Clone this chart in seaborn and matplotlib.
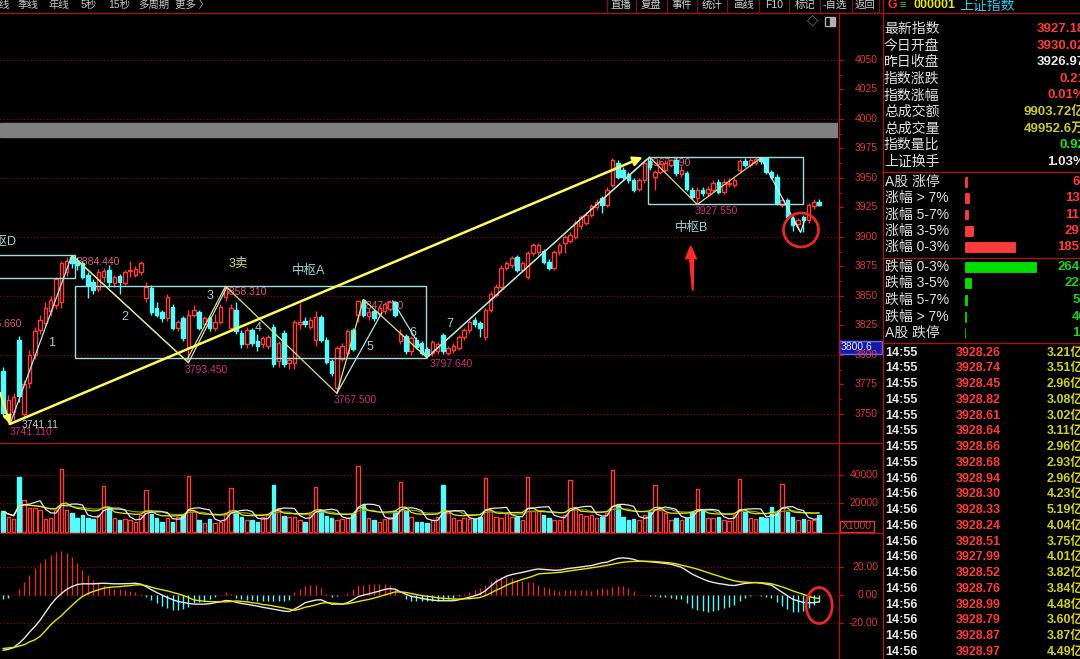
import numpy as np
import pandas as pd
import seaborn as sns
import matplotlib.pyplot as plt
import matplotlib.transforms as mtransforms
from matplotlib.patches import Rectangle, Ellipse, Polygon

# 30-minute candles of 上证指数
opens = [3786, 3745, 3752, 3813, 3750, 3776, 3800, 3821, 3827, 3837,
         3842, 3845, 3870, 3883, 3880, 3878, 3868, 3862, 3856, 3866,
         3872, 3861, 3867, 3861, 3871, 3868, 3870, 3848, 3857, 3840,
         3836, 3831, 3841, 3823, 3831, 3807, 3834, 3836, 3826, 3831,
         3823, 3828, 3849, 3823, 3838, 3819, 3809, 3821, 3812, 3809,
         3808, 3824, 3795, 3819, 3793, 3793, 3826, 3829, 3824, 3813,
         3832, 3813, 3795, 3772, 3797, 3802, 3821, 3834, 3847, 3833,
         3837, 3835, 3837, 3839, 3845, 3812, 3816, 3803, 3813, 3810,
         3805, 3802, 3803, 3817, 3802, 3804, 3806, 3815, 3821, 3830,
         3827, 3815, 3838, 3851, 3858, 3874, 3876, 3883, 3872, 3866,
         3886, 3887, 3888, 3879, 3874, 3887, 3895, 3897, 3900, 3909,
         3912, 3919, 3925, 3933, 3927, 3944, 3963, 3957, 3953, 3948,
         3941, 3948, 3964, 3951, 3955, 3957, 3961, 3965, 3953, 3954,
         3940, 3933, 3940, 3937, 3940, 3947, 3938, 3945, 3944, 3957,
         3964, 3961, 3963, 3967, 3967, 3955, 3951, 3927, 3931, 3916,
         3911, 3917, 3914, 3926, 3930]
highs = [3790, 3766, 3768, 3816, 3779, 3804, 3824, 3834, 3845, 3850,
         3866, 3880, 3883, 3884.44, 3883, 3880, 3870, 3864, 3873, 3874,
         3876, 3868, 3869, 3872, 3880, 3875, 3880, 3862, 3859, 3845,
         3838, 3852, 3843, 3830, 3833, 3838, 3842, 3838, 3833, 3833,
         3835, 3843, 3858.31, 3843, 3845, 3821, 3824, 3823, 3818, 3816,
         3817, 3826, 3812, 3821, 3798, 3830, 3844, 3832, 3832, 3837,
         3834, 3815, 3797, 3808, 3810, 3822, 3823, 3847, 3847.09, 3840,
         3839, 3842, 3845, 3847, 3846, 3822, 3818, 3816, 3815, 3812,
         3807, 3813, 3811, 3819, 3808, 3810, 3817, 3823, 3830, 3832,
         3829, 3840, 3854, 3860, 3876, 3880, 3884, 3885, 3880, 3888,
         3895, 3895, 3890, 3881, 3889, 3895, 3902, 3904, 3914, 3919,
         3921, 3928, 3932, 3935, 3942, 3967, 3965, 3959, 3955, 3950,
         3950, 3965, 3967.59, 3957, 3964, 3965, 3966, 3967, 3960, 3956,
         3942, 3942, 3942, 3943, 3948, 3949, 3949, 3950, 3950, 3966,
         3967, 3967, 3967, 3967.5, 3967.5, 3957, 3953, 3933, 3933, 3918,
         3916, 3919, 3929, 3932, 3932]
lows = [3748, 3741.11, 3745, 3760, 3746, 3772, 3797, 3818, 3824, 3833,
        3839, 3840, 3867, 3874, 3872, 3864, 3848, 3852, 3853, 3862,
        3858, 3858, 3852, 3859, 3866, 3866, 3868, 3845, 3834, 3832,
        3828, 3829, 3821, 3820, 3812, 3793.45, 3832, 3821, 3824, 3820,
        3820, 3826, 3846, 3820, 3818, 3806, 3806, 3808, 3803, 3806,
        3805, 3790, 3790, 3790, 3788, 3788, 3822, 3824, 3822, 3808,
        3811, 3792, 3782, 3767.5, 3795, 3800, 3803, 3828, 3832, 3830,
        3829, 3833, 3835, 3837, 3832, 3809, 3801, 3800, 3805, 3800,
        3797.64, 3799, 3801, 3801, 3800, 3802, 3804, 3813, 3819, 3824,
        3815, 3813, 3836, 3849, 3856, 3872, 3874, 3870, 3870, 3864,
        3884, 3885, 3877, 3872, 3872, 3885, 3886, 3895, 3898, 3907,
        3910, 3917, 3923, 3920, 3925, 3942, 3949, 3949, 3946, 3938,
        3939, 3946, 3957, 3940, 3953, 3955, 3959, 3952, 3951, 3939,
        3932, 3927.55, 3935, 3935, 3938, 3936, 3936, 3942, 3942, 3955,
        3959, 3959, 3961, 3962, 3953, 3949, 3927, 3925, 3915, 3905,
        3909, 3904, 3912, 3924, 3926]
closes = [3751, 3762, 3764, 3765, 3775, 3800, 3820, 3830, 3840, 3847,
          3864, 3878, 3880, 3878, 3876, 3866, 3859, 3855, 3870, 3871,
          3862, 3866, 3862, 3870, 3872, 3873, 3878, 3858, 3836, 3834,
          3831, 3849, 3823, 3828, 3814, 3834, 3838, 3823, 3831, 3823,
          3828, 3841, 3857, 3840, 3820, 3809, 3821, 3810, 3808, 3814,
          3815, 3792, 3810, 3792, 3796, 3828, 3828, 3826, 3830, 3832,
          3813, 3794, 3785, 3806, 3808, 3820, 3805, 3846, 3834, 3836,
          3831, 3840, 3843, 3845, 3834, 3818, 3803, 3814, 3807, 3802,
          3800, 3811, 3809, 3803, 3806, 3808, 3815, 3821, 3828, 3826,
          3823, 3838, 3852, 3858, 3874, 3878, 3882, 3872, 3878, 3886,
          3893, 3893, 3879, 3874, 3887, 3893, 3900, 3902, 3912, 3917,
          3919, 3926, 3930, 3927, 3940, 3965, 3951, 3951, 3948, 3940,
          3948, 3963, 3959, 3955, 3962, 3963, 3965, 3954, 3957, 3941,
          3934, 3940, 3937, 3941, 3946, 3938, 3947, 3946, 3948, 3964,
          3961, 3965, 3966, 3964, 3955, 3951, 3929, 3931, 3917, 3910,
          3914, 3914, 3927, 3930, 3927.18]
volumes = [14300, 10700, 9000, 38800, 22600, 16700, 16700, 15000, 8800, 9500,
           15500, 44500, 15500, 13000, 9500, 11900, 9500, 9000, 11900, 32600,
           17800, 9500, 8300, 8800, 7900, 7100, 11900, 29300, 12600, 9500,
           7100, 9500, 7100, 10700, 12000, 39300, 14300, 8300, 6400, 8800,
           6400, 7100, 13000, 30900, 13600, 10700, 8300, 7900, 7100, 10700,
           11900, 33300, 16700, 11200, 10200, 10700, 8300, 7100, 12000, 32100,
           15000, 11000, 9500, 8300, 8800, 9500, 12600, 46900, 19000, 9500,
           8300, 7100, 8800, 10700, 14300, 35000, 14300, 10700, 7100, 7100,
           6400, 8300, 10200, 33300, 13000, 9500, 8300, 9500, 8800, 8800,
           10700, 38100, 15700, 10200, 9500, 13000, 10700, 10700, 8300, 38800,
           14300, 14300, 11750, 9400, 8200, 8200, 11750, 36900, 17600, 12500,
           11000, 11750, 9400, 10600, 13400, 44000, 18800, 10100, 8200, 8700,
           8200, 11750, 14100, 33400, 15300, 12900, 8200, 9400, 8200, 9400,
           14100, 30600, 15300, 9400, 9400, 10600, 8200, 7800, 11750, 37600,
           14100, 9400, 8700, 10600, 9400, 17600, 12900, 33600, 14100, 10600,
           8200, 8700, 8200, 8200, 11750]
dif = [-39.5, -38.8, -37.5, -34.5, -31, -26.5, -22.5, -18, -12.5, -7,
       -2.5, 1, 4, 6, 7.5, 8, 8, 8, 8.2, 8.4,
       8.2, 8, 8, 8.1, 8.2, 8.4, 7.8, 6, 3.8, 1.8,
       0, -1.8, -3.3, -4.6, -5.3, -6, -6.5, -6.5, -6.5, -6.2,
       -5.5, -4.8, -3.9, -4.2, -5.2, -6, -6.6, -7.3, -7.9, -8.8,
       -9.4, -10.1, -10.8, -11.5, -11.8, -10, -8, -5.5, -4.5, -3.6,
       -3.4, -5, -6.5, -6.5, -6.5, -5.5, -3.5, -1.2, -0.1, 0.8,
       1.8, 2.8, 4, 4.6, 4.2, 2.2, 0.6, -0.9, -1.6, -2.4,
       -3.1, -3.6, -4, -4.1, -4.1, -4.1, -3.4, -2.5, -1.6, -0.5,
       0.7, 3, 6.3, 9.4, 11.5, 13.5, 14.6, 15.4, 16.2, 17,
       18, 18.6, 18.3, 18, 17.7, 17.8, 18.5, 19.1, 19.5, 20,
       20.6, 21, 22, 23, 23.5, 25, 26.2, 26.5, 26.2, 25.5,
       24.2, 24, 23.8, 23.4, 23, 22.5, 22, 21, 19.8, 17.5,
       15, 13.2, 11.5, 10, 9, 8.2, 7.7, 7, 6.8, 7.5,
       8.3, 8.6, 8.9, 8.5, 7.8, 7, 4.5, 2, -0.5, -3,
       -4.2, -5.3, -5.5, -5.5, -4.8]
dea = [-38.2, -37.8, -37.5, -36.5, -35.5, -33.5, -32, -29.5, -25.5, -21.3,
       -17.8, -14.8, -11, -7.5, -4, -1, 1, 2.5, 3.7, 4.9,
       5.5, 5.8, 6, 6.4, 6.7, 7.2, 7.3, 6.75, 5.55, 4.55,
       3.75, 2.95, 1.95, 0.9, -0.3, -1.75, -3.5, -4, -4.5, -4.7,
       -4.75, -4.8, -4.9, -4.7, -4.2, -4.5, -4.85, -5.55, -5.9, -6.8,
       -7.15, -7.85, -8.55, -9.25, -10.05, -11, -10, -8.75, -8, -7.1,
       -5.9, -5.5, -5.75, -6, -6.5, -6.25, -5.5, -4.7, -3.85, -3.2,
       -2.2, -1.2, 0, 1.1, 2.2, 2.2, 1.85, 1.1, 0.4, -0.4,
       -0.85, -1.35, -2, -2.35, -2.6, -2.85, -2.9, -2.75, -2.6, -2.25,
       -1.8, -0.5, 1.3, 3.4, 5, 7, 8.6, 9.9, 11.2, 12.25,
       13.5, 15, 15.4, 15.6, 15.9, 16.2, 16.7, 17.3, 17.8, 18.3,
       18.8, 19.4, 20, 20.6, 21.2, 22, 22.8, 23.4, 23.8, 24,
       24.1, 24.1, 24, 23.9, 23.6, 23.3, 22.9, 22.3, 21.3, 20.5,
       19.5, 18.5, 17.3, 16, 14.8, 13.6, 12.4, 11.2, 10.2, 9.5,
       9.2, 9, 8.9, 8.8, 8.5, 8, 7, 5.8, 4.5, 3,
       1.7, 0.5, -0.8, -2, -2.4]

# hand-drawn strokes (bar index, price)
yellow_pen_i = [13.4, 34.6, 42, 63, 68, 80]
yellow_pen_p = [3883, 3795, 3858.31, 3767.5, 3847.09, 3797.64]
cyan_pen_i = [1.3, 13, 35, 42.3]
cyan_pen_p = [3741.11, 3884.44, 3793.45, 3858]
up_leg_i = [80, 121.5]
up_leg_p = [3797.64, 3966]
box_b_pen_i = [122, 131, 143]
box_b_pen_p = [3967.59, 3927.55, 3967]

# side panel data
info_labels = ['最新指数', '今日开盘', '昨日收盘', '指数涨跌', '指数涨幅',
               '总成交额', '总成交量', '指数量比', '上证换手']
info_values = ['3927.18', '3930.02', '3926.97', '0.21', '0.01%',
               '9903.72亿', '49952.6万', '0.92', '1.03%']
up_labels = ['A股 涨停', '涨幅 > 7%', '涨幅 5-7%', '涨幅 3-5%', '涨幅 0-3%']
up_counts = [64, 137, 117, 297, 1855]
down_labels = ['跌幅 0-3%', '跌幅 3-5%', '跌幅 5-7%', '跌幅 > 7%', 'A股 跌停']
down_counts = [2642, 223, 59, 40, 10]
tick_times = ['14:55'] * 8 + ['14:56'] * 12
tick_prices = ['3928.26', '3928.74', '3928.45', '3928.82', '3928.61', '3928.64', '3928.66',
               '3928.68', '3928.94', '3928.30', '3928.33', '3928.24', '3928.51', '3927.99',
               '3928.52', '3928.76', '3928.99', '3928.79', '3928.87', '3928.97']
tick_amounts = ['3.21亿', '3.51亿', '2.96亿', '3.08亿', '3.02亿', '3.11亿', '2.96亿',
                '2.93亿', '2.96亿', '4.23亿', '5.19亿', '4.04亿', '3.75亿', '4.01亿',
                '3.82亿', '3.84亿', '4.48亿', '3.60亿', '3.87亿', '4.49亿']

sns.set_theme(style="dark")
plt.rcParams['font.family'] = ['Liberation Sans', 'Noto Sans CJK SC', 'DejaVu Sans']
plt.rcParams['axes.unicode_minus'] = False

W, H = 1080, 659
fig = plt.figure(figsize=(W / 100, H / 100), dpi=100, facecolor='black')

RED = '#ff3c3c'
CYAN = '#54fcfc'
GRID = '#8c1010'
AXRED = '#a81414'
LBL = '#d83c3c'
HI = '#d8607a'
LO = '#c8347a'
ZC = '#9fd6d6'


def px_axes(x0, y0, x1, y1):
    ax = fig.add_axes([x0 / W, 1 - y1 / H, (x1 - x0) / W, (y1 - y0) / H])
    ax.set_axis_off()
    return ax


def ix(px):
    return (px - 3) / 5.3


def pr(py):
    return 4050 - (py - 60) / 1.18


o = np.array(opens)
c = np.array(closes)
h = np.array(highs)
l = np.array(lows)
n = len(c)
xs = np.arange(n)
up = c >= o
cols = np.where(up, RED, CYAN)
XL = (-0.566, 157.55)

# ---------------- price panel ----------------
ax_p = px_axes(0, 13, 838, 443)
ax_p.set_xlim(*XL)
ax_p.set_ylim(3725.4, 4089.8)
for lvl in range(3750, 4051, 50):
    ax_p.axhline(lvl, color=GRID, lw=0.8, ls=(0, (1, 2)), zorder=0)
ax_p.axhspan(3984.8, 3996.6, color='#808080', zorder=1)

lbl_kw = dict(fontsize=7.5, va='center', zorder=1.5, clip_on=True)
ax_p.text(ix(10), pr(432), '3741.110', color=LO, **lbl_kw)
ax_p.text(ix(22), pr(425), '3741.11', color='#c8c8c8', **lbl_kw)
ax_p.text(ix(77), pr(262), '3884.440', color=HI, **lbl_kw)
ax_p.text(ix(-21), pr(324), '3826.660', color=HI, **lbl_kw)
ax_p.text(ix(224), pr(292), '3858.310', color=HI, **lbl_kw)
ax_p.text(ix(185), pr(370), '3793.450', color=LO, **lbl_kw)
ax_p.text(ix(334), pr(400), '3767.500', color=LO, **lbl_kw)
ax_p.text(ix(361), pr(306), '3847.090', color=HI, **lbl_kw)
ax_p.text(ix(430), pr(364), '3797.640', color=LO, **lbl_kw)
ax_p.text(ix(648), pr(163), '3967.590', color=HI, **lbl_kw)
ax_p.text(ix(695), pr(211), '3927.550', color=LO, **lbl_kw)

# candles
ax_p.vlines(xs, l, h, colors=cols, lw=1, zorder=2)
body = np.maximum(np.abs(c - o), 0.5)
bot = np.minimum(o, c)
ax_p.bar(xs[up], body[up], bottom=bot[up], width=0.66, facecolor='black',
         edgecolor=RED, lw=1, zorder=3)
ax_p.bar(xs[~up], body[~up], bottom=bot[~up], width=0.66, facecolor=CYAN,
         edgecolor=CYAN, lw=1, zorder=3)

# pivot zones
for (i0, i1, lo_, hi_) in [(-2, ix(75), 3865, 3884.44), (ix(75), ix(426), 3797.64, 3858.31),
                           (ix(648), ix(803), 3927.55, 3967.59)]:
    ax_p.add_patch(Rectangle((i0, lo_), i1 - i0, hi_ - lo_, fill=False, ec='#9fdcdc', lw=1, zorder=4))

# strokes
ax_p.plot(cyan_pen_i, cyan_pen_p, color='#b4e6e6', lw=0.9, zorder=5)
ax_p.plot(yellow_pen_i, yellow_pen_p, color='#e0e080', lw=0.9, zorder=5)
ax_p.plot([63, 71.5], [3767.5, 3836], color='#b4e6e6', lw=0.9, zorder=5)
ax_p.plot([73.5, 80], [3846, 3797.64], color='#b4e6e6', lw=0.9, zorder=5)
ax_p.plot(up_leg_i, up_leg_p, color='#e0e080', lw=0.9, zorder=5)
ax_p.plot([81, 122], [3802, 3967.59], color='#b4e6e6', lw=0.9, zorder=5)
ax_p.plot(box_b_pen_i, box_b_pen_p, color='#d8d88c', lw=0.9, zorder=5)
ax_p.plot([143, 150.5, 151.3], [3967, 3904, 3915], color='#d0e8e8', lw=0.9, zorder=5)
ax_p.plot([149.3, 150.5], [3913, 3904], color='#d0e8e8', lw=0.9, zorder=5)

# long trend arrow
ax_p.annotate('', xy=(120.7, 3967.59), xytext=(1.3, 3741.5),
              arrowprops=dict(arrowstyle='-|>', color='#ffff60', lw=1.8,
                              mutation_scale=14, shrinkA=0, shrinkB=0), zorder=6)
ax_p.annotate('', xy=(1.3, 3741.5), xytext=(-0.55, 3768),
              arrowprops=dict(arrowstyle='-|>', color='#ffff60', lw=1.5,
                              mutation_scale=12, shrinkA=0, shrinkB=0), zorder=6)

txt_kw = dict(fontsize=9, va='center', zorder=6, clip_on=True)
ax_p.text(ix(17), pr(242), '中枢D', ha='right', color=ZC, **txt_kw)
ax_p.text(ix(308.5), pr(271), '中枢A', ha='center', color=ZC, **txt_kw)
ax_p.text(ix(691.5), pr(228), '中枢B', ha='center', color=ZC, **txt_kw)
ax_p.text(ix(238), pr(264), '3卖', ha='center', color='#d8d890', **txt_kw)
for s, px, py in [('1', 52, 343), ('2', 125, 317), ('3', 210, 296), ('4', 258, 328),
                  ('5', 370, 347), ('6', 413, 333), ('7', 450, 324)]:
    ax_p.text(ix(px), pr(py), s, ha='center', color='#a8cccc', **txt_kw)

arrow_pts = [(ix(690.7), pr(246)), (ix(696.5), pr(259)), (ix(693.6), pr(258)),
             (ix(693.2), pr(290)), (ix(692.4), pr(290)), (ix(689.6), pr(258)),
             (ix(685.5), pr(259))]
ax_p.add_patch(Polygon(arrow_pts, closed=True, color='#ff2a2a', zorder=7))
ax_p.add_patch(Ellipse((ix(801), pr(230)), 35 / 5.3, 34 / 1.18, fill=False,
                       ec='#e82828', lw=2, zorder=7))

# ---------------- volume panel ----------------
ax_v = px_axes(0, 443, 838, 533)
ax_v.set_xlim(*XL)
ax_v.set_ylim(-1070, 63200)
for lvl in (20000, 40000):
    ax_v.axhline(lvl, color=GRID, lw=0.8, ls=(0, (1, 2)), zorder=0)
vol = np.array(volumes)
ax_v.bar(xs[up], vol[up], width=0.66, facecolor='black', edgecolor=RED, lw=1, zorder=2)
ax_v.bar(xs[~up], vol[~up], width=0.66, facecolor=CYAN, edgecolor=CYAN, lw=1, zorder=2)
vs = pd.Series(vol)
sns.lineplot(x=xs, y=vs.rolling(20, min_periods=1).mean().values, ax=ax_v,
             color='#7c9a2a', lw=0.9, legend=False, zorder=3)
sns.lineplot(x=xs, y=vs.rolling(10, min_periods=1).mean().values, ax=ax_v,
             color='#e6e600', lw=0.9, legend=False, zorder=3)
sns.lineplot(x=xs, y=vs.rolling(5, min_periods=1).mean().values, ax=ax_v,
             color='#e8e8e8', lw=0.9, legend=False, zorder=3)
ax_v.set_axis_off()

# ---------------- MACD panel ----------------
ax_m = px_axes(0, 533, 838, 659)
ax_m.set_xlim(*XL)
ax_m.set_ylim(-45.7, 44.3)
for lvl in (20, 0, -20):
    ax_m.axhline(lvl, color=GRID, lw=0.8, ls=(0, (1, 2)), zorder=0)
dif_a = np.array(dif)
dea_a = np.array(dea)
hist = 2 * (dif_a - dea_a)
ax_m.vlines(xs, 0, hist, colors=np.where(hist >= 0, '#d83030', CYAN), lw=1, zorder=2)
sns.lineplot(x=xs, y=dif_a, ax=ax_m, color='#e8e8e8', lw=1, legend=False, zorder=3)
sns.lineplot(x=xs, y=dea_a, ax=ax_m, color='#e6e600', lw=1, legend=False, zorder=3)
ax_m.add_patch(Ellipse((154, -7.5), 26 / 5.3, 36 / 1.4, fill=False, ec='#e82828',
                       lw=2, zorder=5, clip_on=False))
ax_m.set_axis_off()

# ---------------- side panel bars (seaborn) ----------------
ax_u = px_axes(965, 173.5, 1080, 255.5)
sns.barplot(x=up_counts, y=up_labels, color='#ff3c3c', saturation=1, width=0.6,
            orient='h', ax=ax_u, edgecolor='#ff3c3c', linewidth=0.6)
ax_u.set_xlim(0, 115 / 0.027)
ax_u.set_ylim(4.5, -0.5)
ax_u.set_axis_off()
ax_d = px_axes(965, 258.4, 1080, 341.6)
sns.barplot(x=down_counts, y=down_labels, color='#00e000', saturation=1, width=0.6,
            orient='h', ax=ax_d, edgecolor='#00e000', linewidth=0.6)
ax_d.set_xlim(0, 115 / 0.027)
ax_d.set_ylim(4.5, -0.5)
ax_d.set_axis_off()

# ---------------- overlay: frame, axes labels, side texts ----------------
ov = fig.add_axes([0, 0, 1, 1])
ov.set_axis_off()
ov.set_autoscale_on(False)
ov.set_xlim(0, W)
ov.set_ylim(H, 0)

ov.plot([0, W], [12.5, 12.5], color=AXRED, lw=1)
for y in (443, 533):
    ov.plot([0, 882], [y, y], color=AXRED, lw=1)
ov.plot([838.5, 838.5], [12.5, H], color=AXRED, lw=1)
ov.plot([882.5, 882.5], [0, H], color=AXRED, lw=1)
for y in (172, 257.5, 343):
    ov.plot([882.5, W], [y, y], color=AXRED, lw=1)

# toolbar
for s, x in [('线', 4), ('季线', 28), ('年线', 59), ('5秒', 89), ('15秒', 119),
             ('多周期', 154), ('更多 〉', 192)]:
    ov.text(x, 5, s, color='#c8c8c8', fontsize=7.5, ha='center', va='center')
for x in [607, 636, 667, 697, 727, 759, 789, 820, 852, 879]:
    ov.plot([x, x], [0, 12], color='#6a1a1a', lw=1)
for s, x in [('直播', 621), ('复盘', 651), ('事件', 682), ('统计', 712), ('画线', 743),
             ('F10', 774), ('标记', 805), ('-自选', 835), ('返回', 865)]:
    ov.text(x, 5, s, color='#d0d0d0', fontsize=7.5, ha='center', va='center')
ov.text(812, 21, '◇', color='#b0b0b0', fontsize=8, ha='center', va='center')
ov.add_patch(Rectangle((825, 16.5), 10, 9, fill=False, ec='#b0b0b0', lw=1))
ov.add_patch(Rectangle((830, 17.5), 4, 7, color='#b0b0b0'))

# price axis
tp = mtransforms.blended_transform_factory(ov.transData, ax_p.transData)
for lvl in range(3750, 4051, 25):
    ov.plot([838.5, 843], [lvl, lvl], color=AXRED, lw=1, transform=tp)
    ov.text(878, lvl, str(lvl), color=LBL, fontsize=7.5, ha='right', va='center', transform=tp)
for lvl in np.arange(3762.5, 4050, 25):
    ov.plot([838.5, 841], [lvl, lvl], color=AXRED, lw=0.8, transform=tp)
ov.add_patch(Rectangle((838.5, 341), 43.5, 13, fc='#1818a8', ec='#6a6aff', lw=1))
ov.text(841, 347.5, '3800.6', color='#e6e6ff', fontsize=7.5, va='center')

tv = mtransforms.blended_transform_factory(ov.transData, ax_v.transData)
for lvl in (20000, 40000):
    ov.plot([838.5, 843], [lvl, lvl], color=AXRED, lw=1, transform=tv)
    ov.text(878, lvl, str(lvl), color=LBL, fontsize=7.5, ha='right', va='center', transform=tv)
ov.add_patch(Rectangle((839.5, 520.5), 34, 11, fill=False, ec=LBL, lw=1))
ov.text(856.5, 526, 'X1000', color=LBL, fontsize=7.5, ha='center', va='center')

tm = mtransforms.blended_transform_factory(ov.transData, ax_m.transData)
for lvl, s in [(20, '20.00'), (0, '0.00'), (-20, '-20.00')]:
    ov.plot([838.5, 843], [lvl, lvl], color=AXRED, lw=1, transform=tm)
    ov.text(878, lvl, s, color=LBL, fontsize=7.5, ha='right', va='center', transform=tm)

# side panel header
ov.text(887, 5.5, 'G', color='#ff3030', fontsize=9, fontweight='bold', va='center')
ov.text(900, 5.5, '≡', color='#50c050', fontsize=8, va='center')
ov.text(913, 5.5, '000001', color='#e6e600', fontsize=9, fontweight='bold', va='center')
ov.text(959, 5.5, '上证指数', color='#30c8e8', fontsize=10, va='center')

info_colors = ['#ff3c3c', '#ff3c3c', '#e8e8e8', '#ff3c3c', '#ff3c3c',
               '#c8c832', '#c8c832', '#20e020', '#e8e8e8']
for k, (lab, val, col) in enumerate(zip(info_labels, info_values, info_colors)):
    y = 29 + 16.6 * k
    ov.text(884, y, lab, color='#e0e0e0', fontsize=10, va='center')
    ov.text(1085, y, val, color=col, fontsize=9.5, fontweight='bold', ha='right', va='center')

for k, (lab, cnt) in enumerate(zip(up_labels, up_counts)):
    y = 181.7 + 16.4 * k
    ov.text(885, y, lab, color='#e0e0e0', fontsize=10, va='center')
    ov.text(1087, y, str(cnt), color='#ff3c3c', fontsize=9.5, fontweight='bold', ha='right', va='center')
for k, (lab, cnt) in enumerate(zip(down_labels, down_counts)):
    y = 266.7 + 16.65 * k
    ov.text(885, y, lab, color='#e0e0e0', fontsize=10, va='center')
    ov.text(1087, y, str(cnt), color='#20d020', fontsize=9.5, fontweight='bold', ha='right', va='center')

for k, (tt, pp, aa) in enumerate(zip(tick_times, tick_prices, tick_amounts)):
    y = 352.7 + 15.75 * k
    ov.text(885, y, tt, color='#e8e8e8', fontsize=9, fontweight='bold', va='center')
    ov.text(956, y, pp, color='#ff3c3c', fontsize=9, fontweight='bold', va='center')
    ov.text(1047, y, aa, color='#d0d020', fontsize=9, fontweight='bold', va='center')

fig.savefig('out.png', dpi=100, facecolor='black')
